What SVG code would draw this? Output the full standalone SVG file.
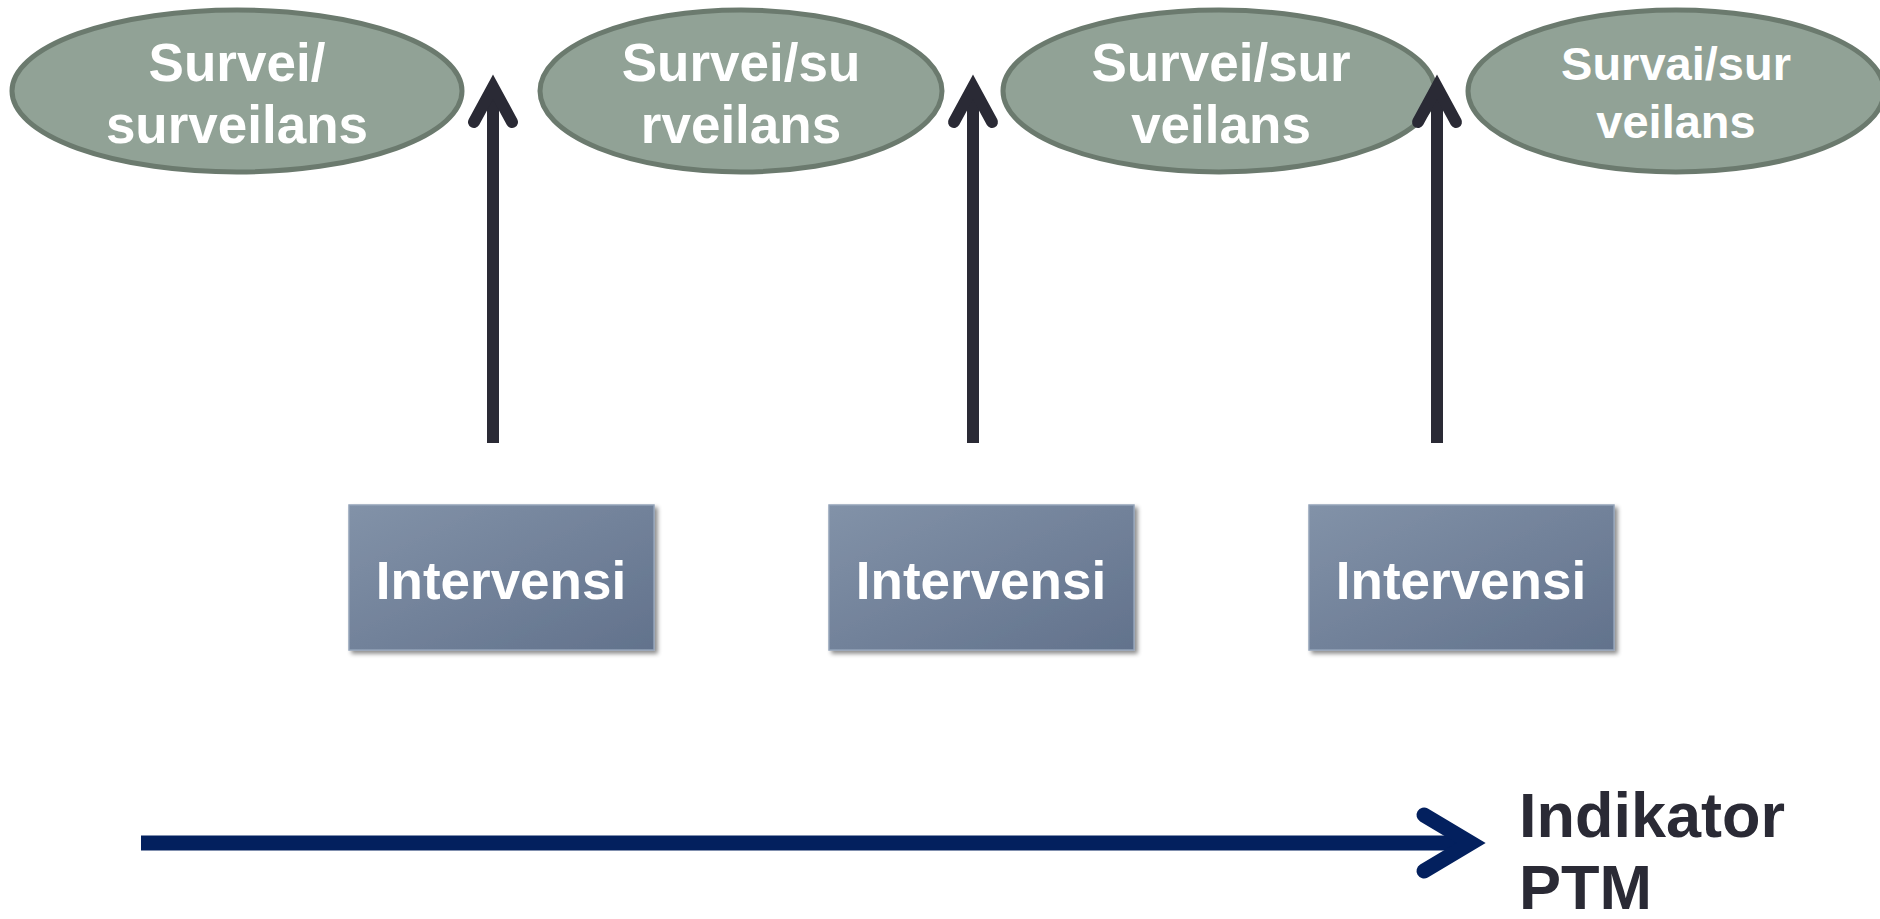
<svg xmlns="http://www.w3.org/2000/svg" width="1880" height="919" viewBox="0 0 1880 919">
  <style>
    .oval { fill: #91a296; stroke: #6b7a6e; stroke-width: 5; }
    .ovaltxt { fill: #ffffff; font-family: "Liberation Sans", Arial, sans-serif; font-weight: bold; font-size: 53px; text-anchor: middle; }
    .box { fill: url(#boxGrad); stroke: #93a3b8; stroke-width: 1.5; filter: url(#shadow); }
    .boxtxt { fill: #ffffff; font-family: "Liberation Sans", Arial, sans-serif; font-weight: bold; font-size: 53px; text-anchor: middle; }
    .varrow { fill: none; stroke: #2a2a35; stroke-width: 12; stroke-linecap: round; stroke-linejoin: miter; stroke-miterlimit: 10; }
    .vshaft { fill: none; stroke: #2a2a35; stroke-width: 12; stroke-linecap: butt; }
    .harrow { fill: none; stroke: #03205e; stroke-width: 15; stroke-linecap: round; stroke-linejoin: miter; stroke-miterlimit: 10; }
    .hshaft { fill: none; stroke: #03205e; stroke-width: 15; stroke-linecap: butt; }
    .label { fill: #2a2a35; font-family: "Liberation Sans", Arial, sans-serif; font-weight: bold; font-size: 63px; }
  </style>
  <defs>
    <linearGradient id="boxGrad" x1="0" y1="0" x2="1" y2="1">
      <stop offset="0" stop-color="#8292a8"/>
      <stop offset="1" stop-color="#62728c"/>
    </linearGradient>
    <filter id="shadow" x="-10%" y="-10%" width="125%" height="130%">
      <feDropShadow dx="3" dy="3" stdDeviation="2" flood-color="#000000" flood-opacity="0.45"/>
    </filter>
  </defs>
  <rect width="1880" height="919" fill="#ffffff"/>

  <g id="survei1">
    <ellipse class="oval" cx="237" cy="91" rx="225" ry="81"/>
    <text class="ovaltxt" x="237" y="81">Survei/</text>
    <text class="ovaltxt" x="237" y="143">surveilans</text>
  </g>
  <g id="survei2">
    <ellipse class="oval" cx="741" cy="91" rx="201" ry="81"/>
    <text class="ovaltxt" x="741" y="81">Survei/su</text>
    <text class="ovaltxt" x="741" y="143">rveilans</text>
  </g>
  <g id="survei3">
    <ellipse class="oval" cx="1219" cy="91" rx="216" ry="81"/>
    <text class="ovaltxt" x="1221" y="81">Survei/sur</text>
    <text class="ovaltxt" x="1221" y="143">veilans</text>
  </g>
  <g id="survei4">
    <ellipse class="oval" cx="1676" cy="91" rx="208" ry="81"/>
    <text class="ovaltxt" x="1676" y="80" style="font-size:47px">Survai/sur</text>
    <text class="ovaltxt" x="1676" y="138" style="font-size:47px">veilans</text>
  </g>

  <g id="intervensi1">
    <rect class="box" x="349" y="505" width="305" height="145"/>
    <text class="boxtxt" x="501" y="599">Intervensi</text>
  </g>
  <g id="intervensi2">
    <rect class="box" x="829" y="505" width="305" height="145"/>
    <text class="boxtxt" x="981" y="599">Intervensi</text>
  </g>
  <g id="intervensi3">
    <rect class="box" x="1309" y="505" width="305" height="145"/>
    <text class="boxtxt" x="1461" y="599">Intervensi</text>
  </g>

  <g id="indikator">
    <text class="label" x="1519" y="837">Indikator</text>
    <text class="label" x="1519" y="909">PTM</text>
  </g>

  <g id="connectors">
    <line class="vshaft" x1="493" y1="443" x2="493" y2="90"/>
    <polyline class="varrow" points="474,122 493,87 512,122"/>
    <line class="vshaft" x1="973" y1="443" x2="973" y2="90"/>
    <polyline class="varrow" points="954,122 973,87 992,122"/>
    <line class="vshaft" x1="1437" y1="443" x2="1437" y2="90"/>
    <polyline class="varrow" points="1418,122 1437,87 1456,122"/>
    <line class="hshaft" x1="141" y1="843" x2="1470" y2="843"/>
    <polyline class="harrow" points="1424,815 1471,843 1424,871"/>
  </g>
</svg>
